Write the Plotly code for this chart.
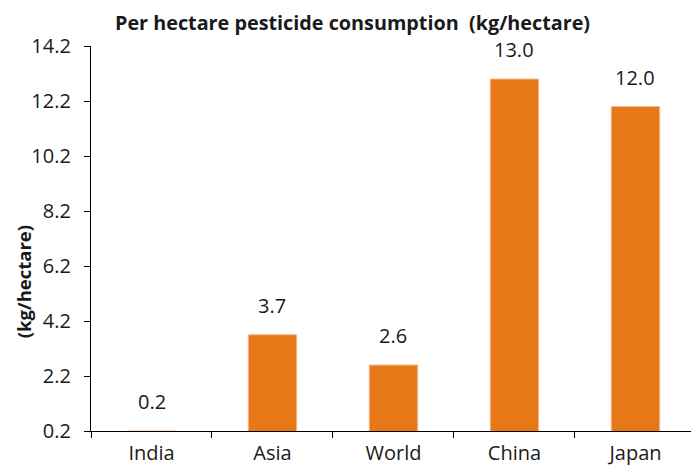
import plotly.graph_objects as go

# Per hectare pesticide consumption by region
regions = ["India", "Asia", "World", "China", "Japan"]
consumption = [0.2, 3.7, 2.6, 13.0, 12.0]
y_ticks = [0.2, 2.2, 4.2, 6.2, 8.2, 10.2, 12.2, 14.2]

BAR = "#E67817"
TEXT = "#1a1a1a"
FONT = "'Open Sans', sans-serif"
NUM_SIZE = 20

fig = go.Figure()
fig.add_trace(go.Bar(
    x=regions,
    y=consumption,
    width=0.4,
    marker=dict(color=BAR, line=dict(color="#F6B98A", width=1)),
    hoverinfo="x+y",
))

# value labels above each bar
for name, val in zip(regions, consumption):
    fig.add_annotation(
        x=name, y=val, xref="x", yref="y",
        text=f"{val:.1f}", showarrow=False,
        yanchor="bottom", yshift=14,
        font=dict(size=NUM_SIZE, color=TEXT, family=FONT),
    )

fig.add_annotation(
    x=0.435, y=1.062, xref="paper", yref="paper",
    text="<b>Per hectare pesticide consumption  (kg/hectare)</b>",
    showarrow=False, xanchor="center", yanchor="middle",
    font=dict(size=19.8, color=TEXT, family=FONT),
)
fig.add_annotation(
    x=-0.113, y=0.387, xref="paper", yref="paper",
    text="<b>(kg/hectare)</b>", textangle=-90,
    showarrow=False, xanchor="center", yanchor="middle",
    font=dict(size=18.5, color=TEXT, family=FONT),
)

fig.update_layout(
    width=691, height=469,
    margin=dict(l=91, r=0, t=46, b=38),
    paper_bgcolor="white", plot_bgcolor="white",
    showlegend=False,
    font=dict(family=FONT, color=TEXT, size=NUM_SIZE),
)
fig.update_xaxes(
    range=[-0.5, 4.459],
    automargin=False,
    showline=True, linecolor="black", linewidth=1.3,
    ticks="outside", tickson="boundaries", ticklen=6,
    tickcolor="black", tickwidth=1.3,
    ticklabelstandoff=4,
    showgrid=False, zeroline=False,
    tickfont=dict(size=NUM_SIZE, color=TEXT, family=FONT),
)
fig.update_yaxes(
    range=[0.2, 14.2],
    automargin=False,
    tickvals=y_ticks, ticktext=[f"{v:.1f}" for v in y_ticks],
    showline=True, linecolor="black", linewidth=1.3,
    ticks="outside", ticklen=6, tickcolor="black", tickwidth=1.3,
    ticklabelstandoff=9,
    showgrid=False, zeroline=False,
    tickfont=dict(size=NUM_SIZE, color=TEXT, family=FONT),
)

fig.write_html("out.html")
